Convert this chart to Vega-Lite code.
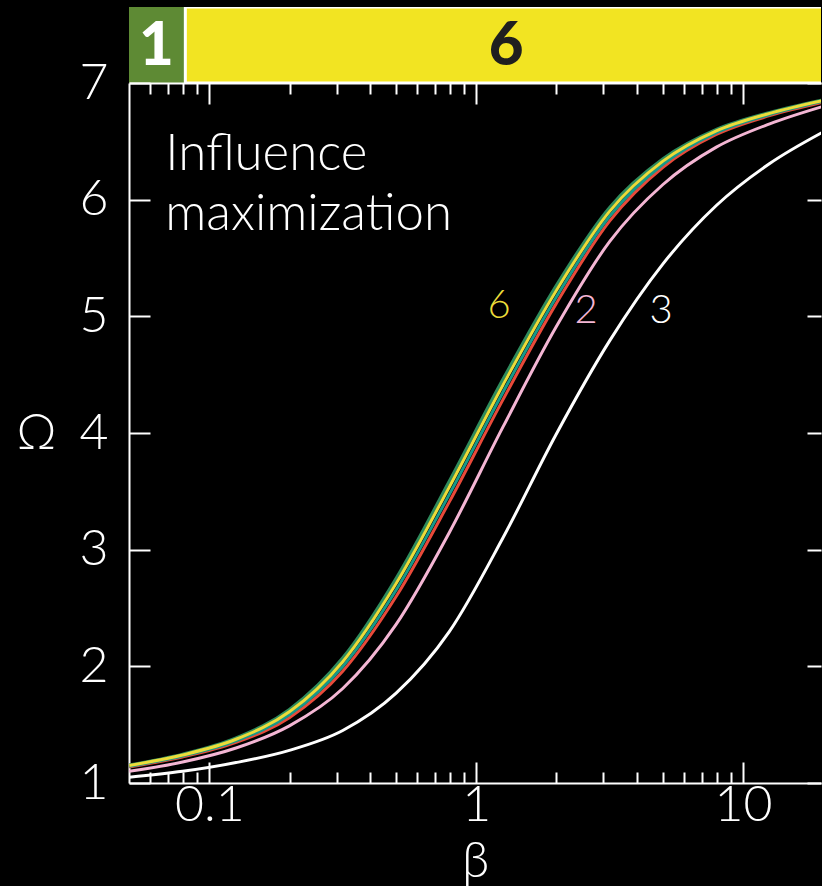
{
  "$schema": "https://vega.github.io/schema/vega-lite/v6.json",
  "background": "black",
  "padding": {"left": 16, "top": 7, "right": 1, "bottom": 0},
  "spacing": 0,
  "bounds": "flush",
  "config": {
    "view": {"stroke": null},
    "axis": {
      "grid": false,
      "domainColor": "white",
      "domainWidth": 2,
      "tickColor": "white",
      "tickWidth": 2,
      "labelColor": "white",
      "titleColor": "white",
      "labelFont": "Lato",
      "titleFont": "Lato",
      "labelFontWeight": 300,
      "titleFontWeight": 300,
      "labelFontSize": 50,
      "titleFontSize": 50,
      "labelOverlap": false,
      "labelFlush": false
    }
  },
  "resolve": {"scale": {"x": "independent", "y": "independent", "color": "independent"}},
  "datasets": {
    "header": [
      {"label": "1", "start": 0.05, "end": 0.0806, "mid": 0.0633},
      {"label": "6", "start": 0.0813, "end": 40, "mid": 1.295}
    ],
    "curves": [
      {"curve": "3", "beta": 0.0501, "omega": 1.05},
      {"curve": "3", "beta": 0.0794, "omega": 1.10},
      {"curve": "3", "beta": 0.1259, "omega": 1.175},
      {"curve": "3", "beta": 0.1995, "omega": 1.28},
      {"curve": "3", "beta": 0.3162, "omega": 1.45},
      {"curve": "3", "beta": 0.5012, "omega": 1.77},
      {"curve": "3", "beta": 0.7943, "omega": 2.30},
      {"curve": "3", "beta": 1.259, "omega": 3.10},
      {"curve": "3", "beta": 1.995, "omega": 3.99},
      {"curve": "3", "beta": 3.162, "omega": 4.79},
      {"curve": "3", "beta": 5.012, "omega": 5.45},
      {"curve": "3", "beta": 7.943, "omega": 5.95},
      {"curve": "3", "beta": 12.59, "omega": 6.31},
      {"curve": "3", "beta": 19.95, "omega": 6.58},

      {"curve": "2", "beta": 0.0501, "omega": 1.10},
      {"curve": "2", "beta": 0.0794, "omega": 1.18},
      {"curve": "2", "beta": 0.1259, "omega": 1.30},
      {"curve": "2", "beta": 0.1995, "omega": 1.49},
      {"curve": "2", "beta": 0.3162, "omega": 1.81},
      {"curve": "2", "beta": 0.5012, "omega": 2.36},
      {"curve": "2", "beta": 0.7943, "omega": 3.15},
      {"curve": "2", "beta": 1.259, "omega": 4.05},
      {"curve": "2", "beta": 1.995, "omega": 4.91},
      {"curve": "2", "beta": 3.162, "omega": 5.64},
      {"curve": "2", "beta": 5.012, "omega": 6.13},
      {"curve": "2", "beta": 7.943, "omega": 6.45},
      {"curve": "2", "beta": 12.59, "omega": 6.65},
      {"curve": "2", "beta": 19.95, "omega": 6.80},

      {"curve": "4", "beta": 0.0501, "omega": 1.138},
      {"curve": "4", "beta": 0.0794, "omega": 1.223},
      {"curve": "4", "beta": 0.1259, "omega": 1.348},
      {"curve": "4", "beta": 0.1995, "omega": 1.56},
      {"curve": "4", "beta": 0.3162, "omega": 1.958},
      {"curve": "4", "beta": 0.5012, "omega": 2.598},
      {"curve": "4", "beta": 0.7943, "omega": 3.412},
      {"curve": "4", "beta": 1.259, "omega": 4.284},
      {"curve": "4", "beta": 1.995, "omega": 5.109},
      {"curve": "4", "beta": 3.162, "omega": 5.816},
      {"curve": "4", "beta": 5.012, "omega": 6.278},
      {"curve": "4", "beta": 7.943, "omega": 6.559},
      {"curve": "4", "beta": 12.59, "omega": 6.72},
      {"curve": "4", "beta": 19.95, "omega": 6.835},

      {"curve": "5", "beta": 0.0501, "omega": 1.144},
      {"curve": "5", "beta": 0.0794, "omega": 1.232},
      {"curve": "5", "beta": 0.1259, "omega": 1.361},
      {"curve": "5", "beta": 0.1995, "omega": 1.585},
      {"curve": "5", "beta": 0.3162, "omega": 1.999},
      {"curve": "5", "beta": 0.5012, "omega": 2.654},
      {"curve": "5", "beta": 0.7943, "omega": 3.476},
      {"curve": "5", "beta": 1.259, "omega": 4.347},
      {"curve": "5", "beta": 1.995, "omega": 5.164},
      {"curve": "5", "beta": 3.162, "omega": 5.858},
      {"curve": "5", "beta": 5.012, "omega": 6.304},
      {"curve": "5", "beta": 7.943, "omega": 6.575},
      {"curve": "5", "beta": 12.59, "omega": 6.73},
      {"curve": "5", "beta": 19.95, "omega": 6.843},

      {"curve": "1", "beta": 0.0501, "omega": 1.155},
      {"curve": "1", "beta": 0.0794, "omega": 1.247},
      {"curve": "1", "beta": 0.1259, "omega": 1.386},
      {"curve": "1", "beta": 0.1995, "omega": 1.63},
      {"curve": "1", "beta": 0.3162, "omega": 2.073},
      {"curve": "1", "beta": 0.5012, "omega": 2.755},
      {"curve": "1", "beta": 0.7943, "omega": 3.591},
      {"curve": "1", "beta": 1.259, "omega": 4.46},
      {"curve": "1", "beta": 1.995, "omega": 5.264},
      {"curve": "1", "beta": 3.162, "omega": 5.934},
      {"curve": "1", "beta": 5.012, "omega": 6.351},
      {"curve": "1", "beta": 7.943, "omega": 6.602},
      {"curve": "1", "beta": 12.59, "omega": 6.748},
      {"curve": "1", "beta": 19.95, "omega": 6.856},

      {"curve": "6", "beta": 0.0501, "omega": 1.15},
      {"curve": "6", "beta": 0.0794, "omega": 1.24},
      {"curve": "6", "beta": 0.1259, "omega": 1.375},
      {"curve": "6", "beta": 0.1995, "omega": 1.61},
      {"curve": "6", "beta": 0.3162, "omega": 2.04},
      {"curve": "6", "beta": 0.5012, "omega": 2.71},
      {"curve": "6", "beta": 0.7943, "omega": 3.54},
      {"curve": "6", "beta": 1.259, "omega": 4.41},
      {"curve": "6", "beta": 1.995, "omega": 5.22},
      {"curve": "6", "beta": 3.162, "omega": 5.90},
      {"curve": "6", "beta": 5.012, "omega": 6.33},
      {"curve": "6", "beta": 7.943, "omega": 6.59},
      {"curve": "6", "beta": 12.59, "omega": 6.74},
      {"curve": "6", "beta": 19.95, "omega": 6.85}
    ],
    "curveLabels": [
      {"curve": "6", "beta": 1.22, "omega": 5.09},
      {"curve": "2", "beta": 2.58, "omega": 5.05},
      {"curve": "3", "beta": 4.93, "omega": 5.05}
    ],
    "notes": [
      {"note": "Influence\nmaximization", "beta": 0.0684, "omega": 6.6}
    ]
  },
  "vconcat": [
    {
      "width": 692,
      "height": 76,
      "data": {"name": "header"},
      "layer": [
        {
          "transform": [{"filter": "datum.label == '1'"}],
          "mark": {"type": "rect", "fill": "#5e8a34", "clip": true},
          "encoding": {
            "x": {"field": "start", "type": "quantitative", "scale": {"type": "log", "domain": [0.05, 19.6], "nice": false}, "axis": null},
            "x2": {"field": "end"}
          }
        },
        {
          "transform": [{"filter": "datum.label == '6'"}],
          "mark": {"type": "rect", "fill": "#f2e422", "stroke": "white", "strokeWidth": 3, "clip": true},
          "encoding": {
            "x": {"field": "start", "type": "quantitative", "axis": null},
            "x2": {"field": "end"}
          }
        },
        {
          "mark": {"type": "text", "font": "Lato", "fontWeight": 900, "fontSize": 60, "baseline": "middle", "align": "center", "dy": 2},
          "encoding": {
            "x": {"field": "mid", "type": "quantitative", "axis": null},
            "text": {"field": "label"},
            "color": {"field": "label", "type": "nominal", "scale": {"domain": ["1", "6"], "range": ["#ffffff", "#1f1f1f"]}, "legend": null}
          }
        }
      ]
    },
    {
      "width": 692,
      "height": 700,
      "resolve": {"axis": {"x": "independent", "y": "independent"}},
      "layer": [
        {
          "data": {"name": "curves"},
          "mark": {"type": "line", "strokeWidth": 3, "interpolate": "monotone", "clip": true},
          "encoding": {
            "x": {
              "field": "beta", "type": "quantitative",
              "scale": {"type": "log", "domain": [0.05, 19.6], "nice": false},
              "axis": {
                "orient": "bottom",
                "values": [0.06, 0.07, 0.08, 0.09, 0.1, 0.2, 0.3, 0.4, 0.5, 0.6, 0.7, 0.8, 0.9, 1, 2, 3, 4, 5, 6, 7, 8, 9, 10],
                "tickSize": {"condition": {"test": "indexof([0.1, 1, 10], datum.value) >= 0", "value": -21}, "value": -11},
                "labelExpr": "datum.value == 0.1 ? '0.1' : datum.value == 1 ? '1' : datum.value == 10 ? '10' : ''",
                "labelPadding": 18,
                "title": "β",
                "titlePadding": -4
              }
            },
            "y": {
              "field": "omega", "type": "quantitative",
              "scale": {"domain": [1, 7], "nice": false, "zero": false},
              "axis": {
                "orient": "left",
                "values": [1, 2, 3, 4, 5, 6, 7],
                "tickSize": -21,
                "labelPadding": 42,
                "title": "Ω",
                "titleAngle": 0,
                "titleAlign": "center",
                "titleBaseline": "middle",
                "titleX": -93,
                "titleY": 350
              }
            },
            "color": {
              "field": "curve", "type": "nominal",
              "scale": {"domain": ["3", "2", "4", "5", "1", "6"], "range": ["#ffffff", "#f4b6d4", "#e84a3a", "#16998a", "#2e8b5c", "#ecdc3a"]},
              "legend": null
            }
          }
        },
        {
          "data": {"name": "curveLabels"},
          "mark": {"type": "text", "font": "Lato", "fontWeight": 300, "fontSize": 40, "align": "center", "baseline": "middle"},
          "encoding": {
            "x": {
              "field": "beta", "type": "quantitative",
              "axis": {
                "orient": "top",
                "values": [0.06, 0.07, 0.08, 0.09, 0.1, 0.2, 0.3, 0.4, 0.5, 0.6, 0.7, 0.8, 0.9, 1, 2, 3, 4, 5, 6, 7, 8, 9, 10],
                "tickSize": {"condition": {"test": "indexof([0.1, 1, 10], datum.value) >= 0", "value": -21}, "value": -11},
                "labels": false,
                "title": null
              }
            },
            "y": {
              "field": "omega", "type": "quantitative",
              "axis": {"orient": "right", "values": [1, 2, 3, 4, 5, 6, 7], "tickSize": -14, "labels": false, "domain": false, "title": null}
            },
            "text": {"field": "curve"},
            "color": {"field": "curve", "type": "nominal", "legend": null}
          }
        },
        {
          "data": {"name": "notes"},
          "mark": {"type": "text", "font": "Lato", "fontWeight": 300, "fontSize": 51, "align": "left", "baseline": "top", "lineBreak": "\n", "lineHeight": 60, "color": "white"},
          "encoding": {
            "x": {"field": "beta", "type": "quantitative", "axis": null},
            "y": {"field": "omega", "type": "quantitative", "axis": null},
            "text": {"field": "note"}
          }
        }
      ]
    }
  ]
}
